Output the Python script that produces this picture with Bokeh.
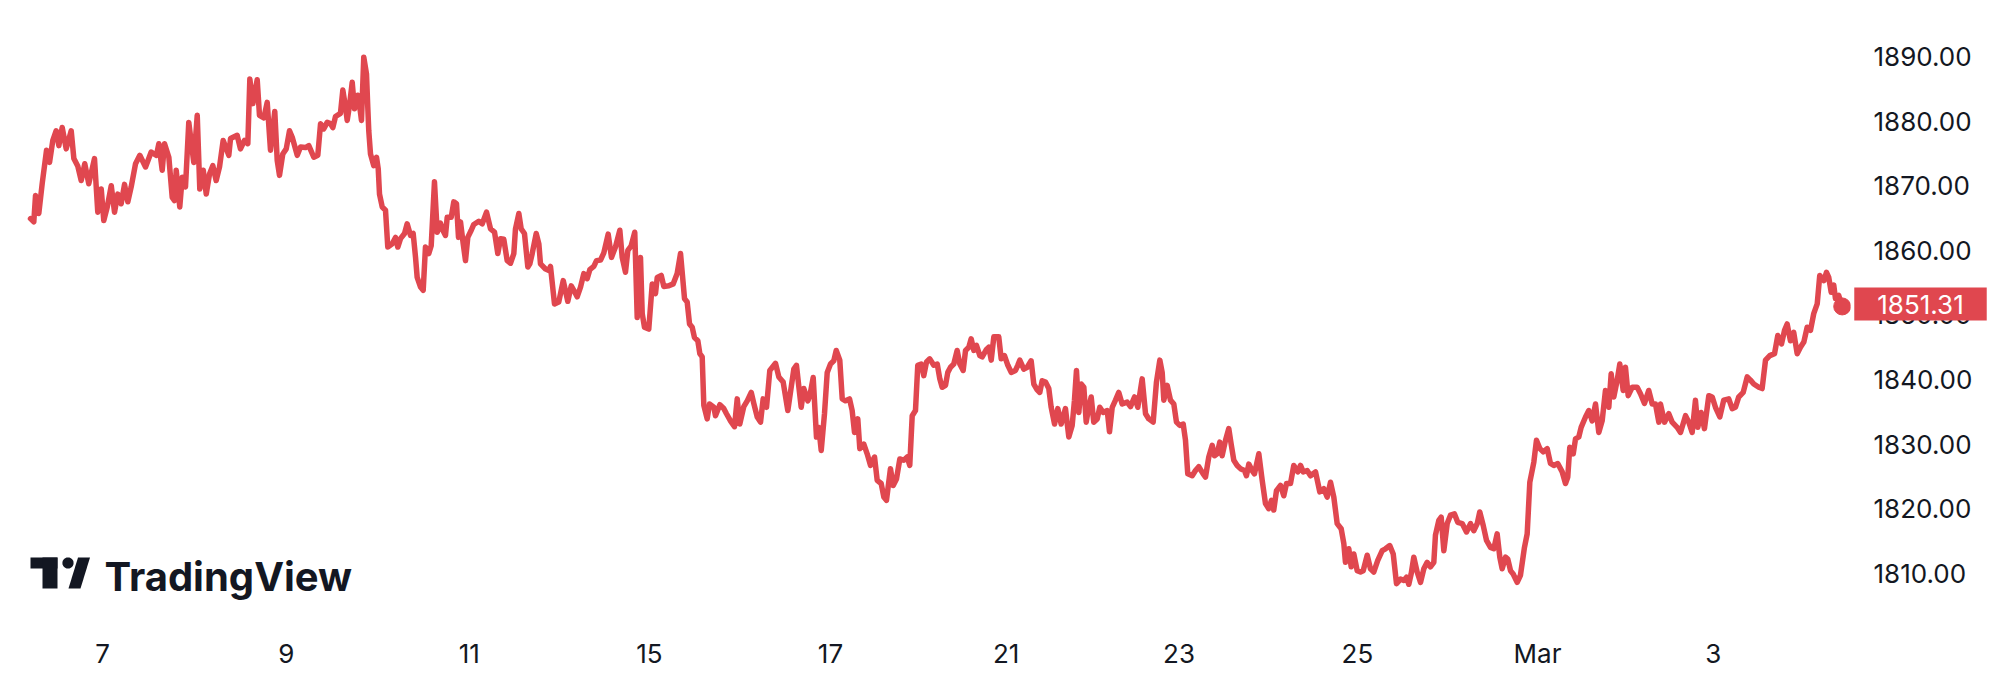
import numpy as np
from bokeh.plotting import figure
from bokeh.models import (ColumnDataSource, Range1d, FixedTicker, NumeralTickFormatter,
                          Label, BoxAnnotation, PolyAnnotation)
from bokeh.embed import file_html
from bokeh.resources import INLINE

# ---------------- data: gold spot, time in trading days from "7" ----------------
wk1_t = [-0.791, -0.755, -0.736, -0.700, -0.663, -0.615, -0.582, -0.546, -0.509, -0.480,
         -0.443, -0.399, -0.344, -0.315, -0.271, -0.234, -0.195, -0.151, -0.088, -0.052,
         -0.014, 0.014, 0.052, 0.096, 0.132, 0.168, 0.205, 0.242, 0.278, 0.315,
         0.363, 0.410, 0.473, 0.535, 0.593, 0.619, 0.656, 0.681, 0.729, 0.766,
         0.791, 0.810, 0.849, 0.876, 0.912, 0.948, 0.986, 1.003, 1.041, 1.069,
         1.107, 1.140, 1.176, 1.212, 1.249, 1.286, 1.326, 1.388, 1.407, 1.480,
         1.516, 1.560, 1.597, 1.619, 1.652, 1.700, 1.725, 1.773, 1.810, 1.846,
         1.893, 1.920, 1.945, 1.981, 2.019, 2.055]
wk1_px = [1864.9, 1864.4, 1868.5, 1865.7, 1870.3, 1875.5, 1873.6, 1877.0, 1878.5, 1876.2,
          1879.0, 1875.7, 1878.5, 1874.2, 1873.0, 1870.8, 1873.4, 1870.3, 1874.2, 1865.9,
          1869.5, 1864.6, 1866.7, 1870.0, 1865.9, 1868.7, 1867.2, 1870.2, 1867.5, 1869.8,
          1873.4, 1874.7, 1872.9, 1875.2, 1874.7, 1876.5, 1872.4, 1876.5, 1874.4, 1868.2,
          1867.7, 1872.4, 1866.7, 1871.3, 1869.8, 1879.8, 1875.5, 1873.6, 1880.9, 1869.5,
          1872.4, 1868.7, 1871.8, 1873.1, 1870.8, 1872.9, 1877.0, 1874.7, 1877.3, 1877.8,
          1875.7, 1877.0, 1876.5, 1886.5, 1882.7, 1886.4, 1880.9, 1880.5, 1882.9, 1875.5,
          1881.5, 1873.9, 1871.6, 1874.9, 1875.7, 1878.5]

wk2_t = [2.085, 2.140, 2.176, 2.231, 2.267, 2.322, 2.366, 2.396, 2.432, 2.469,
         2.505, 2.531, 2.560, 2.615, 2.641, 2.670, 2.689, 2.714, 2.744, 2.769,
         2.805, 2.827, 2.846, 2.871, 2.901, 2.915, 2.926, 2.945, 2.981, 3.011,
         3.030, 3.044, 3.074, 3.110, 3.135, 3.184, 3.220, 3.245, 3.275, 3.319,
         3.348, 3.385, 3.414, 3.440, 3.458, 3.495, 3.524, 3.549, 3.586, 3.612,
         3.648, 3.678, 3.714, 3.740, 3.769, 3.788, 3.832, 3.860, 3.890, 3.912,
         3.934, 3.964, 3.989, 4.014, 4.052, 4.080, 4.135, 4.173, 4.220, 4.264,
         4.308, 4.344, 4.374, 4.410, 4.447, 4.484, 4.520, 4.538, 4.575, 4.601,
         4.637, 4.674, 4.696, 4.722, 4.766, 4.795, 4.813, 4.868, 4.904]
wk2_px = [1877.5, 1874.7, 1876.0, 1875.9, 1876.2, 1874.4, 1874.7, 1879.6, 1878.8, 1879.8,
          1879.6, 1879.0, 1880.7, 1881.2, 1884.8, 1882.2, 1880.1, 1882.4, 1886.0, 1881.9,
          1884.0, 1882.2, 1880.1, 1889.9, 1887.3, 1882.2, 1878.5, 1874.9, 1873.1, 1874.4,
          1872.6, 1868.7, 1866.7, 1866.2, 1860.5, 1861.0, 1862.0, 1860.5, 1861.8, 1862.6,
          1864.1, 1862.3, 1862.6, 1858.9, 1855.8, 1854.3, 1853.8, 1860.5, 1859.5, 1860.7,
          1870.6, 1862.8, 1864.2, 1863.1, 1862.3, 1865.1, 1865.1, 1867.5, 1867.2, 1862.0,
          1864.4, 1861.0, 1858.4, 1862.0, 1863.1, 1864.0, 1864.5, 1864.1, 1865.9, 1863.3,
          1862.8, 1859.5, 1861.8, 1861.7, 1858.4, 1858.0, 1859.5, 1863.3, 1865.7, 1863.3,
          1862.6, 1857.4, 1857.9, 1859.5, 1862.6, 1861.0, 1857.9, 1857.1, 1856.9]

wk3_t = [4.923, 4.967, 5.014, 5.063, 5.113, 5.151, 5.179, 5.216, 5.253, 5.289,
         5.326, 5.355, 5.399, 5.429, 5.473, 5.509, 5.557, 5.593, 5.637, 5.685,
         5.711, 5.747, 5.773, 5.810, 5.849, 5.876, 5.912, 5.931, 5.956, 6.003,
         6.041, 6.077, 6.096, 6.140, 6.168, 6.223, 6.271, 6.315, 6.352, 6.396,
         6.425, 6.451, 6.480, 6.505, 6.542, 6.564, 6.590, 6.608, 6.645, 6.670,
         6.718, 6.736, 6.784, 6.827, 6.857, 6.901, 6.945, 6.975, 7.003, 7.047,
         7.085, 7.129, 7.157, 7.195, 7.231, 7.260, 7.297, 7.333, 7.396, 7.432,
         7.480, 7.531, 7.560, 7.597, 7.626, 7.652, 7.678, 7.707, 7.751]
wk3_px = [1857.5, 1851.7, 1852.0, 1855.3, 1852.1, 1854.5, 1853.8, 1852.8, 1854.3, 1856.4,
          1855.6, 1857.0, 1857.5, 1858.4, 1858.5, 1859.6, 1862.5, 1858.9, 1860.5, 1863.1,
          1858.9, 1856.6, 1860.0, 1860.7, 1862.8, 1849.6, 1858.9, 1850.2, 1848.1, 1847.8,
          1854.8, 1853.3, 1855.8, 1856.1, 1854.4, 1854.5, 1854.8, 1856.4, 1859.5, 1852.5,
          1852.0, 1848.6, 1848.1, 1846.5, 1846.0, 1844.0, 1843.5, 1836.0, 1833.9, 1836.2,
          1835.7, 1834.4, 1836.1, 1835.5, 1834.7, 1833.6, 1832.7, 1837.0, 1833.1, 1835.8,
          1836.7, 1838.0, 1836.3, 1834.2, 1833.4, 1837.0, 1835.7, 1841.4, 1842.5, 1840.4,
          1839.6, 1835.2, 1838.0, 1841.6, 1842.2, 1838.9, 1835.7, 1838.6, 1836.7]

wk4_t = [7.773, 7.810, 7.846, 7.871, 7.898, 7.934, 7.964, 8.000, 8.036, 8.063,
         8.102, 8.129, 8.165, 8.209, 8.238, 8.264, 8.300, 8.322, 8.366, 8.403,
         8.440, 8.484, 8.513, 8.557, 8.586, 8.615, 8.659, 8.689, 8.725, 8.762,
         8.805, 8.843, 8.871, 8.898, 8.934, 8.959, 8.997, 9.025, 9.055, 9.091,
         9.135, 9.173, 9.201, 9.227, 9.264, 9.289, 9.319, 9.355, 9.392, 9.421,
         9.458, 9.484, 9.520, 9.546, 9.575, 9.604, 9.641, 9.667, 9.711, 9.740,
         9.766, 9.795, 9.849, 9.876, 9.912, 9.949, 9.986, 10.033, 10.058, 10.080,
         10.124, 10.162, 10.205, 10.234, 10.271, 10.300, 10.326, 10.363, 10.399, 10.425,
         10.462, 10.498, 10.535, 10.582, 10.619]
wk4_px = [1837.5, 1840.3, 1831.1, 1832.6, 1829.0, 1834.7, 1841.1, 1842.4, 1842.9, 1844.5,
          1843.0, 1837.0, 1836.7, 1837.0, 1835.2, 1831.8, 1833.9, 1829.3, 1830.0, 1828.5,
          1826.7, 1828.0, 1824.4, 1823.9, 1821.8, 1821.3, 1826.2, 1823.6, 1824.6, 1827.7,
          1827.5, 1828.0, 1826.7, 1834.4, 1835.2, 1842.2, 1842.4, 1840.6, 1842.7, 1843.2,
          1842.2, 1842.4, 1840.1, 1838.8, 1839.1, 1841.1, 1841.9, 1842.4, 1844.5, 1842.4,
          1841.4, 1844.5, 1845.0, 1846.3, 1844.5, 1845.3, 1843.7, 1843.5, 1844.6, 1845.0,
          1843.0, 1846.6, 1846.6, 1843.2, 1843.7, 1842.2, 1841.1, 1841.4, 1842.2, 1843.0,
          1841.6, 1841.9, 1842.9, 1839.3, 1838.4, 1838.0, 1839.8, 1839.6, 1838.6, 1835.7,
          1833.1, 1835.5, 1833.1, 1835.5, 1831.1]

wk5_t = [10.656, 10.681, 10.703, 10.729, 10.755, 10.784, 10.810, 10.838, 10.865, 10.893,
         10.931, 10.959, 10.997, 11.041, 11.066, 11.096, 11.132, 11.168, 11.205, 11.260,
         11.297, 11.341, 11.377, 11.425, 11.462, 11.498, 11.546, 11.582, 11.619, 11.645,
         11.663, 11.700, 11.736, 11.773, 11.802, 11.838, 11.876, 11.901, 11.926, 11.975,
         12.011, 12.047, 12.095, 12.121, 12.157, 12.195, 12.220, 12.249, 12.278, 12.304,
         12.341, 12.377, 12.403, 12.432, 12.469, 12.505, 12.549, 12.571, 12.597, 12.634,
         12.659, 12.707, 12.744, 12.780, 12.816, 12.846, 12.871, 12.901, 12.945, 12.981,
         13.011, 13.055, 13.091, 13.135, 13.165, 13.195, 13.238, 13.275, 13.330, 13.377,
         13.421, 13.458, 13.495]
wk5_px = [1832.9, 1836.8, 1841.4, 1834.9, 1839.3, 1838.8, 1833.4, 1835.7, 1837.3, 1833.4,
          1833.9, 1835.7, 1834.9, 1835.2, 1831.9, 1835.7, 1836.8, 1838.0, 1836.2, 1836.5,
          1835.8, 1837.3, 1835.7, 1840.1, 1834.7, 1833.9, 1833.4, 1839.6, 1843.0, 1841.1,
          1836.8, 1839.1, 1836.8, 1836.2, 1833.4, 1832.9, 1833.1, 1830.6, 1825.4, 1825.1,
          1825.9, 1826.5, 1825.4, 1824.9, 1828.0, 1829.8, 1828.2, 1828.5, 1830.3, 1828.2,
          1830.6, 1832.4, 1830.0, 1827.5, 1826.7, 1826.2, 1825.9, 1825.1, 1826.9, 1825.9,
          1825.4, 1828.5, 1824.4, 1820.8, 1820.0, 1821.3, 1819.8, 1822.8, 1823.6, 1822.0,
          1823.9, 1823.9, 1826.7, 1825.7, 1826.7, 1825.7, 1825.9, 1825.1, 1825.7, 1822.6,
          1823.1, 1821.8, 1824.1]

wk6_t = [13.531, 13.568, 13.612, 13.641, 13.659, 13.696, 13.722, 13.751, 13.788, 13.824,
         13.854, 13.898, 13.934, 13.970, 14.014, 14.063, 14.099, 14.146, 14.184, 14.220,
         14.264, 14.300, 14.330, 14.355, 14.381, 14.410, 14.447, 14.484, 14.520, 14.557,
         14.593, 14.630, 14.648, 14.685, 14.711, 14.740, 14.777, 14.813, 14.857, 14.893,
         14.942, 14.989, 15.033, 15.069, 15.107, 15.135, 15.173, 15.209, 15.253, 15.289,
         15.326, 15.355, 15.381, 15.418, 15.443, 15.473, 15.502, 15.546, 15.582, 15.626,
         15.656, 15.685, 15.729, 15.758, 15.795, 15.832, 15.876, 15.912, 15.948, 15.992,
         16.041, 16.077, 16.102, 16.124, 16.162, 16.187, 16.223, 16.249, 16.297, 16.333]
wk6_px = [1821.8, 1817.7, 1816.9, 1814.6, 1811.7, 1813.8, 1811.0, 1813.0, 1810.4, 1810.2,
          1810.4, 1812.8, 1810.7, 1810.2, 1812.0, 1813.5, 1813.8, 1814.3, 1813.0, 1808.4,
          1809.1, 1808.9, 1809.4, 1808.3, 1809.9, 1812.5, 1810.2, 1808.6, 1810.7, 1811.7,
          1811.0, 1811.7, 1815.9, 1818.2, 1818.7, 1813.5, 1817.7, 1819.0, 1819.2, 1817.9,
          1817.7, 1816.4, 1817.7, 1816.6, 1817.7, 1819.5, 1817.4, 1815.1, 1814.0, 1813.8,
          1816.1, 1812.5, 1810.7, 1812.5, 1812.2, 1810.4, 1809.9, 1808.6, 1809.7, 1814.0,
          1816.1, 1824.1, 1827.2, 1830.6, 1829.3, 1828.8, 1829.3, 1827.0, 1826.7, 1827.0,
          1825.7, 1823.9, 1824.9, 1829.5, 1828.5, 1830.8, 1831.1, 1832.6, 1834.2, 1835.2]

wk7_t = [16.370, 16.407, 16.443, 16.480, 16.516, 16.553, 16.579, 16.608, 16.645, 16.674,
         16.711, 16.736, 16.766, 16.810, 16.865, 16.901, 16.945, 16.992, 17.030, 17.066,
         17.103, 17.121, 17.165, 17.212, 17.249, 17.304, 17.341, 17.396, 17.432, 17.469,
         17.505, 17.531, 17.568, 17.604, 17.652, 17.689, 17.725, 17.773, 17.816, 17.871,
         17.909, 17.945, 17.981, 18.030, 18.074, 18.110, 18.146, 18.201, 18.238, 18.275,
         18.322, 18.374, 18.410, 18.451, 18.484, 18.513, 18.549, 18.585, 18.623, 18.659,
         18.696, 18.733, 18.769, 18.805, 18.843, 18.871, 18.916, 18.945, 18.970, 18.997,
         19.025, 19.044, 19.080, 19.118]
wk7_px = [1833.6, 1836.2, 1831.8, 1833.6, 1838.3, 1835.7, 1840.9, 1837.3, 1839.9, 1842.4,
          1838.3, 1841.9, 1837.5, 1838.8, 1838.8, 1837.8, 1836.3, 1838.3, 1836.2, 1836.2,
          1833.4, 1836.2, 1833.4, 1834.7, 1833.4, 1832.6, 1831.8, 1834.4, 1833.4, 1831.8,
          1836.8, 1832.6, 1834.9, 1832.4, 1837.5, 1837.3, 1835.7, 1834.2, 1836.8, 1837.0,
          1835.5, 1835.7, 1837.3, 1838.0, 1840.4, 1839.9, 1839.3, 1838.8, 1838.6, 1843.0,
          1843.7, 1844.0, 1846.8, 1845.5, 1847.6, 1848.6, 1846.0, 1847.3, 1844.0, 1845.0,
          1845.8, 1848.1, 1847.6, 1850.2, 1851.7, 1856.1, 1855.3, 1856.6, 1855.8, 1853.5,
          1854.6, 1852.5, 1853.0, 1851.31]

day_ticks = [0.0, 2.02, 4.03, 6.01, 8.0, 9.93, 11.83, 13.79, 15.77, 17.70]
day_labels = ["7", "9", "11", "15", "17", "21", "23", "25", "Mar", "3"]
price_ticks = [1810, 1820, 1830, 1840, 1850, 1860, 1870, 1880, 1890]

# ---------------- assemble ----------------
t_all, px_all = [], []
for tt, pp in [(wk1_t, wk1_px), (wk2_t, wk2_px), (wk3_t, wk3_px), (wk4_t, wk4_px),
               (wk5_t, wk5_px), (wk6_t, wk6_px), (wk7_t, wk7_px)]:
    n = min(len(tt), len(pp))
    t_all += tt[:n]
    px_all += pp[:n]
last_t, last_px = t_all[-1], px_all[-1]

RED = "#e0474f"
INK = "#131722"
FONT = "Inter"
TICK_SIZE = "26px"

X0, X1 = -1.121, 19.209
Y0, Y1 = 1803.47, 1891.70
p = figure(width=2012, height=678, x_range=Range1d(X0, X1), y_range=Range1d(Y0, Y1),
           y_axis_location="right", toolbar_location=None, output_backend="svg",
           min_border_left=0, min_border_top=45, min_border_right=162, min_border_bottom=63)
p.outline_line_color = None
p.grid.visible = False
p.background_fill_color = "white"
p.border_fill_color = "white"

for ax in (p.xaxis[0], p.yaxis[0]):
    ax.axis_line_color = None
    ax.major_tick_line_color = None
    ax.minor_tick_line_color = None
    ax.major_tick_out = 0
    ax.major_tick_in = 0
    ax.minor_tick_out = 0
    ax.minor_tick_in = 0
    ax.major_label_text_font = FONT
    ax.major_label_text_font_size = TICK_SIZE
    ax.major_label_text_color = INK

p.xaxis.ticker = FixedTicker(ticks=day_ticks)
p.xaxis.major_label_overrides = {k: v for k, v in zip(day_ticks, day_labels)}
p.xaxis.major_label_standoff = 22
p.yaxis.ticker = FixedTicker(ticks=price_ticks)
p.yaxis.formatter = NumeralTickFormatter(format="0.00")
p.yaxis.major_label_standoff = 23

src = ColumnDataSource(dict(t=t_all, price=px_all))
p.line("t", "price", source=src, line_color=RED, line_width=5.5,
       line_join="round", line_cap="round")
p.scatter([last_t], [last_px], size=17, color=RED)

# last-price tag over the price scale (kept in the top panel so it is not clipped)
x_per_px = (X1 - X0) / 1850.0
y_per_px = (Y1 - Y0) / 570.0
p.add_layout(Label(x=X1 + 70 * x_per_px, y=last_px + 2.4 * y_per_px, text=f"{last_px:.2f}",
                   text_font=FONT, text_font_size=TICK_SIZE, text_color="white",
                   text_align="center", text_baseline="middle",
                   background_fill_color=RED, padding=(23, 7)), "above")

# TradingView watermark
p.add_layout(BoxAnnotation(left=30, right=57, top=58, bottom=47, left_units="screen",
                           right_units="screen", top_units="screen", bottom_units="screen",
                           fill_color=INK, fill_alpha=1, line_alpha=0))
p.add_layout(BoxAnnotation(left=42, right=57, top=58, bottom=27, left_units="screen",
                           right_units="screen", top_units="screen", bottom_units="screen",
                           fill_color=INK, fill_alpha=1, line_alpha=0))
ang = np.linspace(0, 2 * np.pi, 24, endpoint=False)
p.add_layout(PolyAnnotation(xs=list(67.5 + 5.6 * np.cos(ang)), ys=list(52.5 + 5.6 * np.sin(ang)),
                            xs_units="screen", ys_units="screen",
                            fill_color=INK, fill_alpha=1, line_alpha=0))
p.add_layout(PolyAnnotation(xs=[68, 80, 89.5, 77.5], ys=[27, 27, 58, 58],
                            xs_units="screen", ys_units="screen",
                            fill_color=INK, fill_alpha=1, line_alpha=0))
p.add_layout(Label(x=104, y=39, x_units="screen", y_units="screen", text="TradingView",
                   text_font=FONT, text_font_size="40px", text_font_style="bold",
                   text_color=INK, text_align="left", text_baseline="alphabetic"))

open("out.html", "w").write(file_html(p, INLINE))
